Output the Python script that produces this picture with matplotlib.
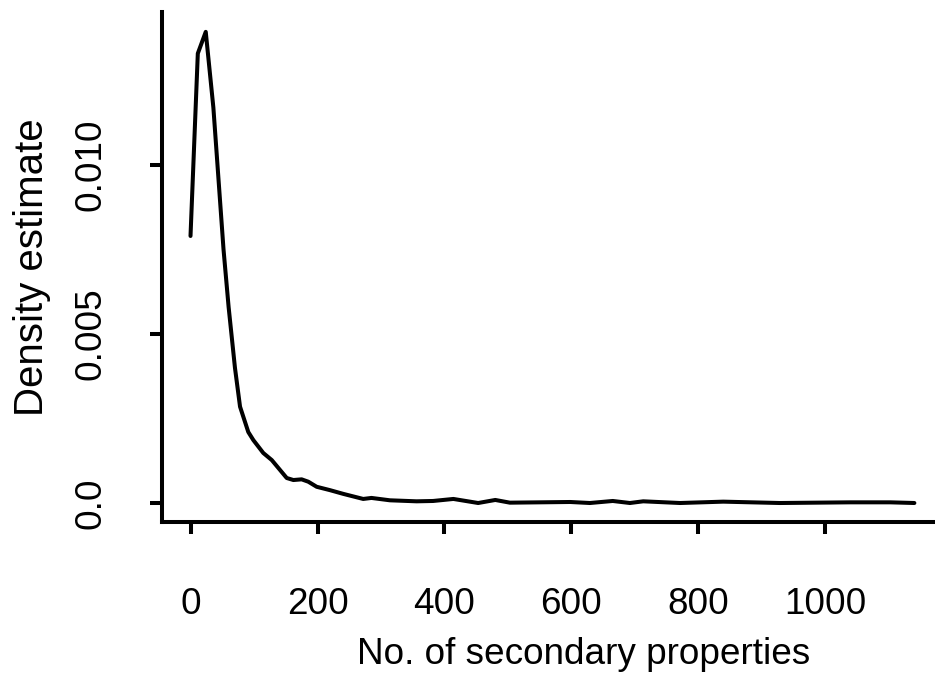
import matplotlib
matplotlib.use("Agg")
import matplotlib.pyplot as plt

# density estimate
n_props = [0, 11.5, 24, 36, 44, 52, 60, 70, 78, 91, 99, 114.6, 128, 151.5,
           162, 175, 185.5, 198.7, 219.7, 240.6, 272, 285, 314, 356, 382,
           414, 453, 480, 503, 598, 629, 665, 692, 713, 771, 839, 928,
           1039, 1102, 1140]
density = [0.0079, 0.0133, 0.01394, 0.0117, 0.0096, 0.0075, 0.0058, 0.0040,
           0.00285, 0.0021, 0.00186, 0.00148, 0.00127, 0.00074, 0.00068,
           0.00070, 0.00063, 0.00048, 0.00038, 0.00027, 0.00012, 0.00015,
           0.00008, 0.00005, 0.00006, 0.00012, 0.0, 0.00009, 0.00001,
           0.00003, 0.0, 0.00006, 0.0, 0.00005, 0.0, 0.00004, 0.0,
           0.00002, 0.00002, 0.0]

x_ticks = [0, 200, 400, 600, 800, 1000]
y_ticks = [0.0, 0.005, 0.010]
y_tick_labels = ["0.0", "0.005", "0.010"]

plt.rcParams['font.family'] = ['Liberation Sans', 'DejaVu Sans']
plt.rcParams['font.size'] = 26.6

W, H = 935, 681
fig = plt.figure(figsize=(W / 100, H / 100), dpi=100)
ax = fig.add_axes([162 / W, (H - 522) / H, 844 / W, 510 / H])

ax.plot(n_props, density, color='black', lw=2.9,
        solid_capstyle='round', solid_joinstyle='round')

ax.set_xlim(-44.9, 1284.3)
ax.set_ylim(-0.000562, 0.014527)

for side in ['top', 'right']:
    ax.spines[side].set_visible(False)
for side in ['left', 'bottom']:
    ax.spines[side].set_linewidth(2.9)

ax.set_xticks(x_ticks)
ax.set_yticks(y_ticks)
ax.set_yticklabels(y_tick_labels)
ax.tick_params(axis='both', length=8.5, width=2.9, color='black')
ax.tick_params(axis='x', pad=38)
ax.tick_params(axis='y', pad=30)
plt.setp(ax.get_yticklabels(), rotation=90, va='center')

ax.set_xlabel('No. of secondary properties')
ax.set_ylabel('Density estimate', fontsize=29)
ax.xaxis.set_label_coords(584 / W, 1 - 637 / H, transform=fig.transFigure)
ax.yaxis.set_label_coords(51 / W, 1 - 267 / H, transform=fig.transFigure)

fig.savefig('out.png', dpi=100)
